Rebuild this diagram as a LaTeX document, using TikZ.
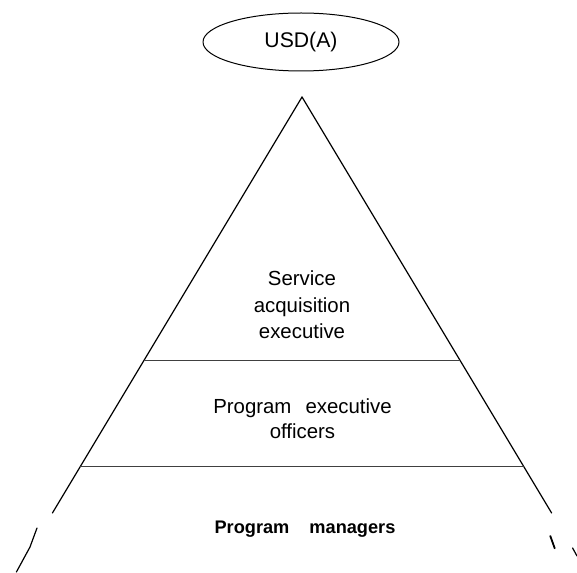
\documentclass[tikz,border=0pt]{standalone}
\usepackage{fontspec}
\setmainfont{Liberation Sans}
\usetikzlibrary{shapes.geometric}
\begin{document}
\begin{tikzpicture}[x=0.5pt, y=-0.5pt, line join=round, line cap=round,
    side/.style={line width=0.6pt},
    tier/.style={line width=0.45pt, color=black!75},
    level/.style={font=\fontsize{10.2}{13.25}\selectfont, align=center, inner sep=0pt}]
  \useasboundingbox (0,0) rectangle (577,572);
  % top office
  \node[draw, ellipse, line width=0.5pt, minimum width=98pt, minimum height=29pt, inner sep=0pt,
        font=\fontsize{10.6}{12}\selectfont] (usd) at (301,42) {USD(A)};
  % pyramid corners and the breaks in its sides
  \coordinate (apex) at (302,97);
  \coordinate (lgap) at (52.4,513);
  \coordinate (lres) at (37,528);
  \coordinate (lbot) at (16.4,572);
  \coordinate (rgap) at (551.6,513);
  \coordinate (rres) at (572.6,548);
  \coordinate (rbot) at (577,556);
  \draw[side] (apex) -- (lgap);
  \draw[side] (lres) -- (30,547) -- (lbot);
  \draw[side] (apex) -- (rgap);
  \draw[line width=0.9pt] (550.3,536) -- (554.7,548.3);
  \draw[side] (rres) -- (rbot);
  % tiers
  \coordinate (t1l) at (144.2,360);
  \coordinate (t1r) at (459.8,360);
  \coordinate (t2l) at (80.6,466);
  \coordinate (t2r) at (523.4,466);
  \draw[tier] (t1l) -- (t1r);
  \draw[tier] (t2l) -- (t2r);
  % labels
  \node[level] (sae) at (302,305) {Service\\acquisition\\executive};
  \node[level, font=\fontsize{10.2}{12.5}\selectfont] (peo) at (302.5,419) {Program\hspace{4.2pt} executive\\officers};
  \node[anchor=base, inner sep=0pt, font=\fontsize{9.1}{11}\selectfont\bfseries] (pm) at (305,533) {Program\hspace{7.5pt} managers};
\end{tikzpicture}
\end{document}
